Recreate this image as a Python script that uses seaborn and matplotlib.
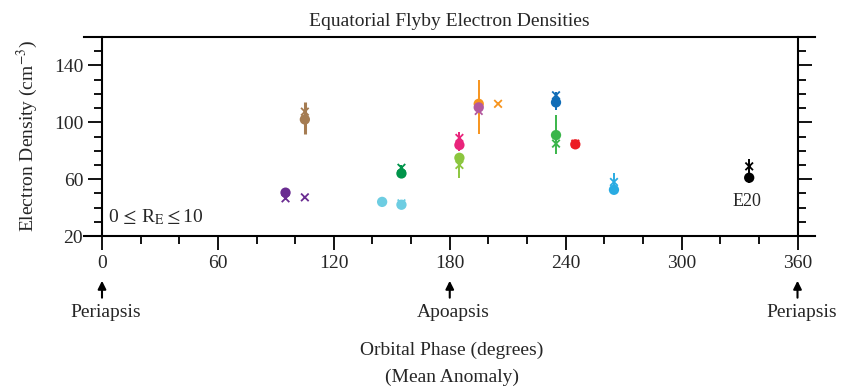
import numpy as np
import pandas as pd
import matplotlib
matplotlib.use("Agg")
import matplotlib.pyplot as plt
from matplotlib.ticker import FixedLocator, MultipleLocator
import seaborn as sns

# ---- data ----
flybys = ["P1", "B1", "C1", "C2", "G1", "K1", "L1", "O1", "M1", "U1", "N1", "R1", "S1", "E20"]
colors = ["#6a2c91", "#a57c52", "#6dcde2", "#6dcde2", "#00944a", "#e9247b", "#8cc63f",
          "#f7941d", "#b3589e", "#106db7", "#3ab54a", "#ec1c24", "#29abe2", "#000000"]
circ_phase = [95, 105, 145, 155, 155, 185, 185, 195, 195, 235, 235, 245, 265, 335]
circ_dens = [50.5, 102, 44, 42, 64, 84, 75, 113, 110.5, 114, 91, 84.5, 52.5, 61]
err_low = [48, 92, 44, 40, 61, 80, 61, 91.5, 108, 109, 77.5, 83, 50, 57.5]
err_high = [53, 114, 44, 44, 70, 93, 78, 130, 113, 121, 105, 86, 64, 74]

x_flyby = ["P1", "P1", "B1", "C2", "G1", "K1", "L1", "M1", "O1", "U1", "N1", "R1", "S1", "E20"]
x_phase = [95, 105, 105, 155, 155, 185, 185, 195, 205, 235, 235, 245, 265, 335]
x_dens = [46.5, 47.2, 107.5, 43, 68, 89, 70, 108, 113, 119, 85, 85, 58, 69]

palette = dict(zip(flybys, colors))
circ_df = pd.DataFrame({"flyby": flybys, "phase": circ_phase, "dens": circ_dens,
                        "lo": err_low, "hi": err_high})
x_df = pd.DataFrame({"flyby": x_flyby, "phase": x_phase, "dens": x_dens})

# ---- style ----
sns.set_style("ticks")
plt.rcParams["font.family"] = ["Liberation Serif", "DejaVu Serif"]
plt.rcParams["mathtext.fontset"] = "stix"
FS = 14

fig = plt.figure(figsize=(8.42, 3.86), dpi=100)
ax = fig.add_axes([0.0998, 0.3886, 0.868, 0.5155])

# error bars
for _, r in circ_df.iterrows():
    lw = 2.2 if r.flyby == "B1" else 1.4
    ax.vlines(r.phase, r.lo, r.hi, color=palette[r.flyby], lw=lw, zorder=2)

sns.scatterplot(data=x_df, x="phase", y="dens", hue="flyby", palette=palette,
                marker="x", s=30, linewidth=1.3, legend=False, ax=ax, zorder=3)
sns.scatterplot(data=circ_df, x="phase", y="dens", hue="flyby", palette=palette,
                marker="o", s=55, edgecolor="none", legend=False, ax=ax, zorder=4)

ax.set_xlim(-9.3, 369)
ax.set_ylim(20, 160)
ax.spines["left"].set_position(("data", 0))
ax.spines["right"].set_position(("data", 360))
for s in ax.spines.values():
    s.set_linewidth(1.5)
    s.set_color("black")

ax.xaxis.set_major_locator(FixedLocator([0, 60, 120, 180, 240, 300, 360]))
ax.xaxis.set_minor_locator(MultipleLocator(20))
ax.yaxis.set_major_locator(FixedLocator([20, 60, 100, 140]))
ax.yaxis.set_minor_locator(MultipleLocator(10))
ax.tick_params(axis="x", which="both", bottom=True, top=False, direction="out",
               labelsize=FS, width=1.3, color="black")
ax.tick_params(axis="y", which="both", left=True, right=True, direction="out",
               labelsize=FS, width=1.3, color="black", labelright=False)
ax.tick_params(which="major", length=10)
ax.tick_params(which="minor", length=5.5)
ax.set_xlabel("")
ax.set_ylabel("Electron Density (cm$^{-3}$)", fontsize=FS, labelpad=10)

ax.set_title("Equatorial Flyby Electron Densities", fontsize=FS, pad=8)

ax.text(3, 33.5, r"0$\,\leq\,$R$_{\mathrm{E}}$$\leq$10", fontsize=FS, va="center", ha="left")
ax.text(334, 44, "E20", fontsize=FS - 1, ha="center", va="center")

for xv, lab in [(0, "Periapsis"), (180, "Apoapsis"), (360, "Periapsis")]:
    ax.annotate("", xy=(xv, -0.225), xytext=(xv, -0.31),
                xycoords=("data", "axes fraction"), textcoords=("data", "axes fraction"),
                arrowprops=dict(arrowstyle="-|>", color="black", lw=1.5,
                                mutation_scale=12, shrinkA=0, shrinkB=0),
                annotation_clip=False)
    ax.text(xv + 2, -0.385, lab, transform=ax.get_xaxis_transform(), fontsize=FS,
            ha="center", va="center", clip_on=False)

fig.text(452 / 842, 1 - 350 / 386, "Orbital Phase (degrees)", fontsize=FS,
         ha="center", va="center")
fig.text(452 / 842, 1 - 377 / 386, "(Mean Anomaly)", fontsize=FS,
         ha="center", va="center")

fig.savefig("out.png", dpi=100)
